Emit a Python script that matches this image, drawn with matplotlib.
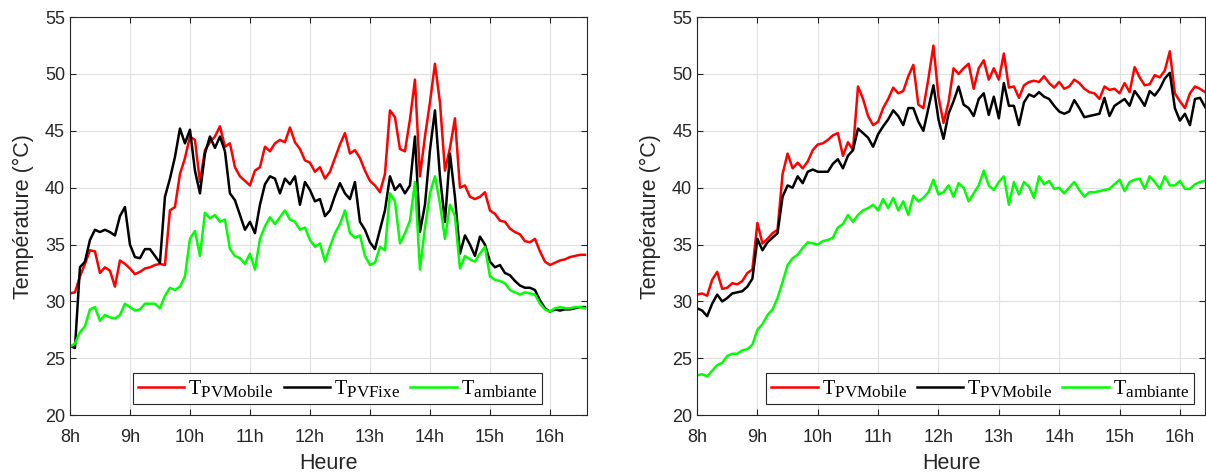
import numpy as np
import matplotlib
matplotlib.use('Agg')
import matplotlib.pyplot as plt
import matplotlib._mathtext as mt

# indices plus grands, comme dans la figure d'origine
mt.SHRINK_FACTOR = 0.85

plt.rcParams['font.family'] = ['Liberation Sans', 'DejaVu Sans']
plt.rcParams['mathtext.fontset'] = 'custom'
plt.rcParams['mathtext.rm'] = 'Liberation Serif'
plt.rcParams['mathtext.it'] = 'Liberation Serif:italic'

# temps en minutes depuis 8h, pas de 5 min
t_gauche = np.arange(0, 520, 5)
t_droite = np.arange(0, 510, 5)

# journee 1 (gauche)
pv_mobile_1 = [30.7, 30.8, 32.2, 33.3, 34.5, 34.4, 32.5, 33.0, 32.7, 31.3, 33.6, 33.3,
               32.9, 32.4, 32.6, 32.9, 33.0, 33.2, 33.3, 33.2, 38.0, 38.3, 41.2, 42.6,
               44.5, 44.2, 40.5, 43.3, 44.0, 44.5, 45.4, 43.6, 43.9, 41.8, 41.0, 40.6,
               40.2, 41.5, 41.8, 43.6, 43.2, 43.9, 44.2, 44.0, 45.3, 44.0, 43.4, 42.4,
               42.2, 41.4, 41.8, 40.8, 41.4, 42.6, 43.8, 44.8, 43.0, 43.3, 42.6, 41.5,
               40.6, 40.2, 39.6, 41.2, 46.8, 46.2, 43.4, 43.2, 46.0, 49.5, 41.0, 44.5,
               47.5, 50.9, 47.5, 41.5, 43.5, 46.1, 40.0, 40.2, 39.2, 39.0, 39.2, 39.6,
               38.0, 37.7, 37.1, 37.0, 36.4, 36.1, 35.9, 35.3, 35.2, 35.5, 34.4, 33.5,
               33.2, 33.4, 33.6, 33.7, 33.9, 34.0, 34.1, 34.1]
pv_fixe_1 = [26.1, 25.9, 33.0, 33.5, 35.4, 36.3, 36.1, 36.3, 36.1, 35.8, 37.5, 38.3,
             35.0, 33.9, 33.8, 34.6, 34.6, 34.0, 33.4, 39.2, 40.8, 42.7, 45.2, 43.9,
             45.1, 41.5, 39.5, 43.0, 44.5, 43.5, 44.5, 43.2, 39.5, 38.9, 37.6, 36.3,
             37.0, 36.0, 38.5, 40.3, 41.0, 40.8, 39.5, 40.8, 40.3, 41.0, 38.5, 40.5,
             39.8, 38.8, 39.0, 37.5, 38.0, 39.3, 40.4, 39.5, 39.0, 40.5, 37.0, 36.3,
             35.2, 34.6, 36.3, 38.0, 41.0, 39.8, 40.3, 39.5, 40.2, 44.5, 36.1, 38.5,
             43.3, 46.8, 41.0, 37.0, 43.0, 39.2, 34.2, 35.8, 35.0, 34.0, 35.7, 35.0,
             33.5, 33.0, 33.2, 32.5, 32.3, 31.8, 31.4, 31.2, 31.2, 31.0, 30.1, 29.4,
             29.1, 29.3, 29.2, 29.3, 29.3, 29.4, 29.5, 29.5]
ambiante_1 = [26.0, 26.3, 27.3, 27.8, 29.3, 29.5, 28.3, 28.8, 28.6, 28.5, 28.8, 29.8,
              29.5, 29.2, 29.3, 29.8, 29.8, 29.8, 29.4, 30.5, 31.2, 31.0, 31.3, 32.2,
              35.5, 36.2, 34.0, 37.8, 37.3, 37.6, 37.0, 37.2, 34.6, 34.0, 33.8, 33.3,
              34.2, 32.8, 35.5, 36.6, 37.4, 36.8, 37.4, 38.0, 37.2, 37.0, 36.3, 36.5,
              35.4, 34.8, 35.1, 33.5, 34.8, 36.0, 36.8, 38.0, 36.0, 35.6, 35.8, 34.0,
              33.2, 33.4, 34.8, 34.5, 39.5, 38.8, 35.1, 36.0, 37.1, 40.5, 32.8, 36.5,
              39.5, 41.0, 38.6, 35.5, 38.5, 37.5, 32.9, 34.0, 33.7, 33.5, 34.2, 34.8,
              32.2, 31.9, 31.8, 31.6, 31.0, 30.8, 30.6, 30.8, 30.7, 30.6, 29.8, 29.3,
              29.1, 29.4, 29.5, 29.4, 29.4, 29.5, 29.5, 29.4]

# journee 2 (droite)
pv_mobile_2 = [30.6, 30.7, 30.5, 31.9, 32.6, 31.1, 31.2, 31.6, 31.5, 31.8, 32.5, 32.8,
               36.9, 35.1, 35.5, 36.0, 36.3, 41.2, 43.0, 41.7, 42.2, 41.7, 42.3, 43.3,
               43.8, 43.9, 44.2, 44.6, 44.8, 42.8, 44.0, 43.3, 48.9, 47.8, 46.3, 45.5,
               45.8, 47.0, 47.8, 48.8, 48.3, 48.5, 49.8, 50.8, 47.3, 47.0, 49.6, 52.5,
               48.0, 45.7, 47.5, 50.5, 50.0, 50.5, 50.9, 48.7, 50.5, 51.2, 49.5, 50.5,
               49.5, 51.8, 48.8, 48.9, 47.9, 49.0, 49.3, 49.4, 49.3, 49.8, 49.2, 48.8,
               49.3, 48.7, 48.9, 49.5, 49.2, 48.7, 48.4, 48.3, 47.8, 48.9, 48.6, 48.7,
               48.3, 49.2, 48.4, 50.6, 49.7, 49.0, 49.1, 49.9, 49.7, 50.3, 52.0, 48.3,
               47.6, 47.0, 48.3, 48.9, 48.7, 48.4]
pv_mobile_2b = [29.4, 29.2, 28.7, 29.8, 30.6, 30.0, 30.3, 30.7, 30.8, 30.9, 31.3, 32.0,
                35.5, 34.5, 35.2, 35.6, 36.0, 39.2, 40.2, 40.0, 41.0, 40.4, 41.4, 41.6,
                41.4, 41.4, 41.4, 42.1, 42.5, 41.7, 42.8, 43.3, 45.2, 44.8, 44.4, 43.6,
                44.7, 45.4, 46.0, 46.8, 46.3, 45.5, 47.0, 47.0, 45.8, 45.0, 47.0, 49.0,
                46.0, 44.3, 46.5, 47.6, 48.9, 47.3, 47.0, 46.3, 47.8, 48.3, 46.4, 48.0,
                46.1, 49.2, 47.2, 47.2, 45.5, 47.5, 48.2, 48.0, 48.4, 48.0, 47.8, 47.2,
                46.7, 46.5, 46.7, 47.7, 47.0, 46.2, 46.3, 46.4, 46.5, 47.9, 46.3, 47.2,
                47.5, 47.8, 47.2, 48.5, 47.9, 47.2, 48.5, 48.1, 48.7, 49.6, 50.1, 47.0,
                45.9, 46.5, 45.5, 47.8, 47.9, 47.1]
ambiante_2 = [23.5, 23.6, 23.4, 23.9, 24.4, 24.6, 25.2, 25.4, 25.4, 25.7, 25.8, 26.2,
              27.5, 28.0, 28.8, 29.3, 30.3, 31.7, 33.2, 33.8, 34.1, 34.7, 35.2, 35.1,
              35.0, 35.3, 35.4, 35.6, 36.5, 36.8, 37.6, 37.0, 37.6, 38.0, 38.2, 38.5,
              38.0, 39.0, 38.2, 39.1, 38.0, 38.8, 37.6, 39.3, 38.8, 39.1, 39.6, 40.7,
              39.4, 39.6, 40.2, 39.2, 40.4, 40.0, 38.8, 39.5, 40.2, 41.5, 40.2, 39.8,
              40.5, 41.0, 38.5, 40.5, 39.4, 40.5, 40.1, 39.1, 41.0, 40.3, 40.6, 39.9,
              40.0, 39.5, 40.0, 40.5, 39.8, 39.2, 39.6, 39.6, 39.7, 39.8, 39.9, 40.3,
              40.7, 39.7, 40.5, 40.7, 40.8, 39.9, 41.0, 40.5, 39.9, 41.0, 40.2, 40.2,
              40.6, 39.9, 39.9, 40.3, 40.5, 40.6]

heures = ['8h', '9h', '10h', '11h', '12h', '13h', '14h', '15h', '16h']
gris = '#262626'

fig = plt.figure(figsize=(12.06, 4.75), dpi=100)
ax1 = fig.add_axes([0.058, 0.126, 0.4287, 0.838])
ax2 = fig.add_axes([0.578, 0.126, 0.4212, 0.838])

ax1.plot(t_gauche, pv_mobile_1, color='#ff0000', lw=1.8, label=r'$\mathrm{T}_{\mathrm{PVMobile}}$')
ax1.plot(t_gauche, pv_fixe_1, color='black', lw=1.8, label=r'$\mathrm{T}_{\mathrm{PVFixe}}$')
ax1.plot(t_gauche, ambiante_1, color='#00ff00', lw=1.8, label=r'$\mathrm{T}_{\mathrm{ambiante}}$')

ax2.plot(t_droite, pv_mobile_2, color='#ff0000', lw=1.8, label=r'$\mathrm{T}_{\mathrm{PVMobile}}$')
ax2.plot(t_droite, pv_mobile_2b, color='black', lw=1.8, label=r'$\mathrm{T}_{\mathrm{PVMobile}}$')
ax2.plot(t_droite, ambiante_2, color='#00ff00', lw=1.8, label=r'$\mathrm{T}_{\mathrm{ambiante}}$')

for ax, xmax, ancre in [(ax1, 517, (0.122, 0.028)), (ax2, 505, (0.136, 0.028))]:
    ax.set_xlim(0, xmax)
    ax.set_ylim(20, 55)
    ax.set_xticks(range(0, 481, 60))
    ax.set_xticklabels(heures)
    ax.set_yticks(range(20, 56, 5))
    ax.grid(True, color='#e0e0e0', lw=0.8)
    ax.set_axisbelow(True)
    ax.tick_params(direction='in', labelsize=13, colors=gris, length=4, top=True, right=True,
                   labeltop=False, labelright=False)
    ax.tick_params(axis='x', pad=10)
    for s in ax.spines.values():
        s.set_color(gris)
        s.set_linewidth(0.8)
    ax.set_xlabel('Heure', fontsize=15.5, color=gris, labelpad=5)
    ax.set_ylabel('Température (°C)', fontsize=15.5, color=gris, labelpad=8)
    leg = ax.legend(loc='lower left', bbox_to_anchor=ancre, ncol=3, fontsize=14.5,
                    frameon=True, fancybox=False, edgecolor=gris, framealpha=1,
                    handlelength=2.3, handletextpad=0.2, columnspacing=0.5,
                    borderpad=0.25, borderaxespad=0)
    leg.get_frame().set_linewidth(0.8)

fig.savefig('out.png', dpi=100)
